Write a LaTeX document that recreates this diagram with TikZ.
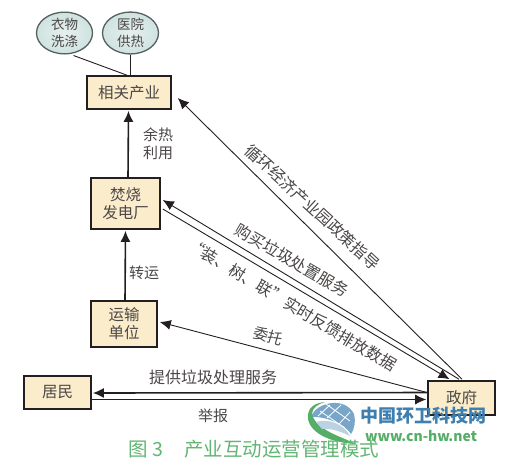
\documentclass[tikz,border=0pt]{standalone}
\usepackage{fontspec}
\setmainfont{Noto Sans CJK SC}
\usetikzlibrary{arrows.meta,shapes.geometric}
\definecolor{boxfill}{HTML}{FBECCB}
\definecolor{ink}{HTML}{231F20}
\definecolor{txt}{HTML}{4A4746}
\definecolor{capg}{HTML}{62B573}
\definecolor{wmblue}{HTML}{3E7FB0}
\definecolor{wmgreen}{HTML}{55AE68}
\definecolor{ellin}{HTML}{E6F0EE}
\definecolor{ellout}{HTML}{CFE3E0}
\definecolor{ellline}{HTML}{55605F}
\tikzset{
  boxn/.style={draw=ink,line width=1.6pt,fill=boxfill,inner sep=0pt,align=center,font=\fontsize{15.5}{18}\selectfont,text=txt},
  ell/.style={ellipse,draw=ellline,line width=1.3pt,inner sep=0pt,minimum width=56pt,minimum height=41pt,align=center,
     inner color=ellin,outer color=ellout,font=\fontsize{13.5}{17}\selectfont,text=txt},
  lab/.style={inner sep=0pt,text=txt,font=\fontsize{15}{18}\selectfont,align=center},
  rlab/.style={inner sep=0pt,text=txt,font=\fontsize{16}{18}\selectfont},
  conn/.style={draw=ink,line width=.9pt},
  heavy/.style={draw=ink,line width=1.6pt},
  tip/.style={-{Latex[length=11pt,width=10pt]}},
}
\begin{document}
\begin{tikzpicture}[x=1pt,y=-1pt]
\useasboundingbox (0,0) rectangle (510,467);
\fill[white] (0,0) rectangle (510,467);

\node[ell] (wash) at (64.5,33) {衣物\\洗涤};
\node[ell] (heat) at (130.5,33) {医院\\供热};
\node[boxn,minimum width=84pt,minimum height=33pt] (ind) at (129,92.5) {相关产业};
\node[boxn,minimum width=69pt,minimum height=51pt] (fac) at (125.5,203.5) {焚烧\\发电厂};
\node[boxn,minimum width=66pt,minimum height=46pt] (trans) at (124,324) {运输\\单位};
\node[boxn,minimum width=67pt,minimum height=33pt] (res) at (57.5,392.5) {居民};
\node[boxn,minimum width=67pt,minimum height=34pt] (gov) at (461.5,398) {政府};

% connectors
\draw[conn] ([shift={(9,1)}]wash.south) -- ([shift={(-2,0)}]ind.north);
\draw[heavy] (heat.south) -- ([shift={(1.5,0)}]ind.north);
\draw[heavy,tip] ([shift={(2.5,0)}]fac.north) -- ([shift={(-0.5,1)}]ind.south);
\draw[heavy,tip] ([shift={(1,0)}]trans.north) -- ([shift={(0,1)}]fac.south);
\draw[conn,tip] ([shift={(0.5,-1)}]gov.north) -- ([shift={(6,5.5)}]ind.east);
\draw[conn,tip] ([shift={(-2.5,-1)}]gov.north) -- ([shift={(2,-3.5)}]fac.east);
\draw[conn,tip] ([shift={(2,5.5)}]fac.east) -- ([shift={(-12,-1)}]gov.north);
\draw[conn,tip] ([shift={(-2,-6)}]gov.west) -- ([shift={(2,-2)}]trans.east);
\draw[heavy,tip] ([shift={(0,-5.5)}]gov.west) -- ([shift={(1,0.5)}]res.east);
\draw[conn,tip] ([shift={(0,7)}]res.east) -- ([shift={(-1,1.5)}]gov.west);

% labels
\node[lab] (lyr) at (158,144) {余热\\利用};
\node[lab] (lzy) at (144,273) {转运};
\node[rlab,rotate=-42.5] (lpol) at (312.5,207) {循环经济产业园政策指导};
\node[rlab,rotate=-30] (lbuy) at (292,260) {购买垃圾处置服务};
\node[rlab,rotate=-31] (lfb) at (292,305) {“装、树、联”实时反馈排放数据};
\node[lab,rotate=-16] (lwt) at (268,336) {委托};
\node[rlab] (lsv) at (213,377.5) {提供垃圾处理服务};
\node[lab] (ljb) at (213,416) {举报};

% watermark
\fill[wmblue!70] (311,417) .. controls (316,402) and (345,396) .. (354,414)
   .. controls (356,422) and (354,430) .. (351,434)
   .. controls (345,424) and (325,416) .. (311,417) -- cycle;
\draw[white,line width=.8pt] (320,411) -- (345,428) (330,405) -- (318,416) (341,405) -- (327,418) (350,412) -- (339,424) (326,404) -- (350,421);
\fill[wmgreen] (308,414) .. controls (306,428) and (322,442) .. (356,444)
   .. controls (340,436) and (316,430) .. (312,414)
   .. controls (312,408) and (318,404) .. (325,402)
   .. controls (315,403) and (309,407) .. (308,414) -- cycle;
\fill[wmblue!35] (316,422) .. controls (328,418) and (344,424) .. (350,436)
   .. controls (338,430) and (328,428) .. (322,429) -- cycle;
\node[inner sep=0pt,text=wmblue,font=\fontsize{18}{20}\selectfont\bfseries] (wm1) at (423.5,415.5) {中国环卫科技网};
\node[inner sep=0pt,text=wmgreen,font=\fontsize{14}{16}\selectfont\bfseries] (wm2) at (421,435.5) {www.cn-hw.net};

% caption
\node[inner sep=0pt,anchor=west,text=capg,font=\fontsize{19.5}{22}\selectfont] (cap) at (128,449) {图 3\hspace{1.1em}产业互动运营管理模式};
\end{tikzpicture}
\end{document}
